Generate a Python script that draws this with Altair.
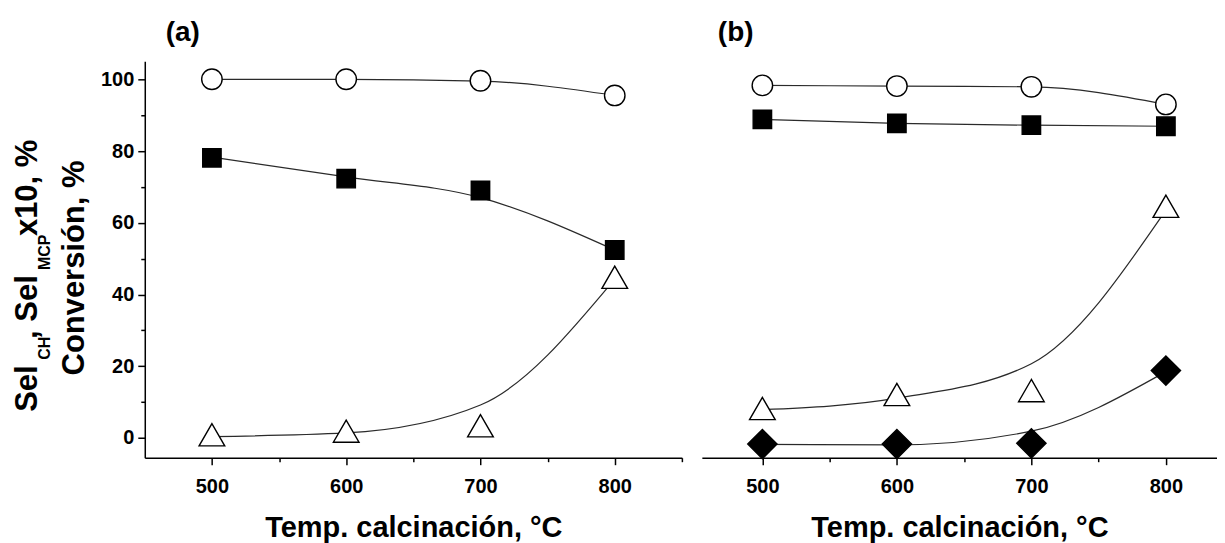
import altair as alt
import pandas as pd

# ---------------- data ----------------
temps = [500, 600, 700, 800]

# panel (a)
a_circle = [100.0, 100.0, 99.6, 95.5]
a_square = [78.1, 72.3, 69.0, 52.4]
a_triangle = [0.9, 1.9, 3.4, 44.8]
a_circle_fit = [100.0, 100.0, 99.5, 95.5]
a_square_fit = [78.3, 72.8, 67.0, 52.4]
a_triangle_fit = [0.4, 1.4, 9.2, 44.3]

# panel (b)
b_circle = [98.3, 98.1, 97.9, 93.0]
b_square = [88.8, 87.7, 87.2, 86.9]
b_triangle = [8.2, 12.1, 13.2, 64.6]
b_diamond = [-1.7, -1.7, -1.5, 18.8]
b_circle_fit = [98.3, 98.1, 97.9, 93.0]
b_square_fit = [88.8, 87.7, 87.2, 86.9]
b_triangle_fit = [7.9, 11.1, 20.7, 63.5]
b_diamond_fit = [-1.8, -1.9, 1.9, 18.5]

x_major = [500, 600, 700, 800]
x_minor_a = [550, 650, 750, 850]
x_minor_b = [550, 650, 750]
y_major = [0, 20, 40, 60, 80, 100]
y_minor = [10, 30, 50, 70, 90]

STYLE = {
    "circle": dict(shape="circle", fill="white", size=420),
    "square": dict(shape="square", fill="black", size=340),
    "triangle": dict(shape="triangle-up", fill="white", size=660),
    "diamond": dict(shape="diamond", fill="black", size=860),
}

FONT = "Liberation Sans"


def frame(values_by_series, fits_by_series):
    rows = []
    for name, vals in values_by_series.items():
        fits = fits_by_series[name]
        for t, v, f in zip(temps, vals, fits):
            rows.append({"series": name, "temp": t, "value": v, "fit": f})
    return pd.DataFrame(rows)


df_a = frame({"circle": a_circle, "square": a_square, "triangle": a_triangle},
             {"circle": a_circle_fit, "square": a_square_fit, "triangle": a_triangle_fit})
df_b = frame({"circle": b_circle, "square": b_square, "triangle": b_triangle, "diamond": b_diamond},
             {"circle": b_circle_fit, "square": b_square_fit, "triangle": b_triangle_fit,
              "diamond": b_diamond_fit})

Y_DOMAIN = [-5.5, 105]
H = 397


def x_axis(values):
    return alt.Axis(
        values=values,
        format="d",
        labelExpr="datum.value % 100 === 0 ? datum.label : ''",
        labelOverlap=False,
        labelFont=FONT, labelFontSize=20, labelFontWeight="bold", labelColor="black",
        labelPadding=12,
        tickSize={"condition": {"test": "datum.value % 100 === 0", "value": 7}, "value": 4},
        tickColor="black", tickWidth=1.5,
        domainColor="black", domainWidth=1.5,
        grid=False,
        title="Temp. calcinación, °C",
        titleFont=FONT, titleFontSize=29, titleFontWeight="bold", titleColor="black",
        titlePadding=17,
    )


y_axis_a = alt.Axis(
    values=sorted(y_major + y_minor),
    format="d",
    labelExpr="datum.value % 20 === 0 ? datum.label : ''",
    labelOverlap=False,
    labelFont=FONT, labelFontSize=20, labelFontWeight="bold", labelColor="black",
    labelPadding=4,
    tickSize={"condition": {"test": "datum.value % 20 === 0", "value": 7}, "value": 4},
    tickColor="black", tickWidth=1.5,
    domainColor="black", domainWidth=1.5,
    grid=False,
    title=None,
)


def panel(df, x_domain, xaxis, yaxis, names):
    xs = alt.Scale(domain=x_domain, nice=False, zero=False)
    ys = alt.Scale(domain=Y_DOMAIN, nice=False, zero=False)
    layers = [
        alt.Chart(df).mark_line(color="#2a2a2a", strokeWidth=1.2, interpolate="monotone").encode(
            x=alt.X("temp:Q", scale=xs, axis=xaxis),
            y=alt.Y("fit:Q", scale=ys, axis=yaxis),
            detail="series:N",
        )
    ]
    for n in names:
        st = STYLE[n]
        layers.append(
            alt.Chart(df).transform_filter(alt.datum.series == n).mark_point(
                shape=st["shape"], filled=True, fill=st["fill"], stroke="black",
                strokeWidth=1.4, size=st["size"], opacity=1,
            ).encode(
                x=alt.X("temp:Q", scale=xs, axis=xaxis),
                y=alt.Y("value:Q", scale=ys, axis=yaxis),
            )
        )
    return layers


def label(txt, x, y, size, angle=0, align="left", baseline="alphabetic"):
    return alt.Chart(pd.DataFrame({"t": [txt]})).mark_text(
        font=FONT, fontSize=size, fontWeight="bold", color="black",
        angle=angle, align=align, baseline=baseline,
    ).encode(text="t:N", x=alt.value(x), y=alt.value(y))


layers_a = panel(df_a, [450, 850], x_axis(x_major + x_minor_a), y_axis_a,
                 ["circle", "square", "triangle"])
layers_b = panel(df_b, [455, 838], x_axis(x_major + x_minor_b), None,
                 ["circle", "square", "triangle", "diamond"])

# y-axis title pieces (rotated, with subscripts)
ytitle = [
    label("Sel", -108, 351, 31, angle=270),
    label("CH", -95, 299, 16, angle=270),
    label(", Sel", -108, 278, 31, angle=270),
    label("MCP", -95, 209, 16, angle=270),
    label("x10, %", -108, 175, 31, angle=270),
    label("Conversión, %", -61, 207, 31, angle=270, align="center"),
]

chart_a = alt.layer(*layers_a, label("(a)", 21, -28, 28, baseline="middle"), *ytitle).properties(
    width=538, height=H)
chart_b = alt.layer(*layers_b, label("(b)", 16, -28, 28, baseline="middle")).properties(
    width=516, height=H)

chart = alt.hconcat(chart_a, chart_b, spacing=19).resolve_scale(
    x="independent", y="independent"
).properties(
    padding={"left": 4, "top": 11, "right": 0, "bottom": 0},
    background="white",
).configure_view(stroke=None)

chart.save("out.html", embed_options={"renderer": "svg", "actions": False})
